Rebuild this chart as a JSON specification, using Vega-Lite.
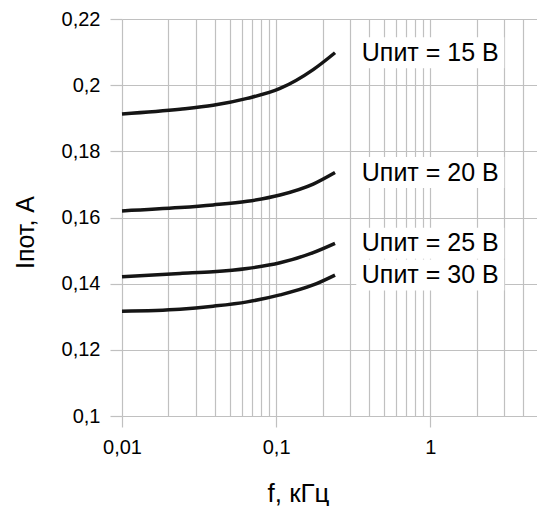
{
  "$schema": "https://vega.github.io/schema/vega-lite/v6.json",
  "width": 416,
  "height": 397,
  "autosize": {"type": "none"},
  "padding": {"left": 122, "top": 19, "right": 0, "bottom": 90},
  "background": "white",
  "config": {
    "view": {"stroke": null},
    "font": "Liberation Sans",
    "axis": {
      "labelFont": "Liberation Sans",
      "titleFont": "Liberation Sans",
      "labelColor": "black",
      "titleColor": "black",
      "titleFontWeight": "normal",
      "gridColor": "#c0c0c0",
      "gridWidth": 1.2,
      "tickColor": "#c0c0c0",
      "tickWidth": 1.2,
      "domain": false
    }
  },
  "datasets": {
    "curves": [
      {"U": "15", "f": 0.01, "I": 0.1913},
      {"U": "15", "f": 0.0238, "I": 0.1927},
      {"U": "15", "f": 0.039, "I": 0.1939},
      {"U": "15", "f": 0.0649, "I": 0.196},
      {"U": "15", "f": 0.106, "I": 0.199},
      {"U": "15", "f": 0.174, "I": 0.2047},
      {"U": "15", "f": 0.241, "I": 0.2098},
      {"U": "20", "f": 0.01, "I": 0.162},
      {"U": "20", "f": 0.0238, "I": 0.163},
      {"U": "20", "f": 0.039, "I": 0.1638},
      {"U": "20", "f": 0.0649, "I": 0.1649},
      {"U": "20", "f": 0.106, "I": 0.1668},
      {"U": "20", "f": 0.174, "I": 0.1701},
      {"U": "20", "f": 0.241, "I": 0.1736},
      {"U": "25", "f": 0.01, "I": 0.1421},
      {"U": "25", "f": 0.0238, "I": 0.1431},
      {"U": "25", "f": 0.039, "I": 0.1436},
      {"U": "25", "f": 0.0649, "I": 0.1446},
      {"U": "25", "f": 0.106, "I": 0.1463},
      {"U": "25", "f": 0.174, "I": 0.1494},
      {"U": "25", "f": 0.241, "I": 0.1522},
      {"U": "30", "f": 0.01, "I": 0.1317},
      {"U": "30", "f": 0.0238, "I": 0.1323},
      {"U": "30", "f": 0.039, "I": 0.1332},
      {"U": "30", "f": 0.0649, "I": 0.1345},
      {"U": "30", "f": 0.106, "I": 0.1366},
      {"U": "30", "f": 0.174, "I": 0.1396},
      {"U": "30", "f": 0.241, "I": 0.1426}
    ],
    "labels": [
      {"text": "Uпит = 15 В", "f": 1, "I": 0.2098},
      {"text": "Uпит = 20 В", "f": 1, "I": 0.1736},
      {"text": "Uпит = 25 В", "f": 1, "I": 0.1522},
      {"text": "Uпит = 30 В", "f": 1, "I": 0.1426}
    ]
  },
  "encoding": {
    "x": {
      "field": "f",
      "type": "quantitative",
      "scale": {"type": "log", "domain": [0.01, 5], "nice": false},
      "axis": {
        "values": [0.01, 0.02, 0.03, 0.04, 0.05, 0.06, 0.07, 0.08, 0.09, 0.1, 0.2, 0.3, 0.4, 0.5, 0.6, 0.7, 0.8, 0.9, 1, 2, 3, 4, 5],
        "labelExpr": "datum.value == 0.01 ? '0,01' : datum.value == 0.1 ? '0,1' : datum.value == 1 ? '1' : ''",
        "labelFontSize": 20,
        "labelPadding": 10,
        "labelOverlap": false,
        "labelFlush": false,
        "labelBound": false,
        "tickSize": 11,
        "tickOpacity": {"condition": {"test": "datum.value == 0.01 || datum.value == 0.1 || datum.value == 1", "value": 1}, "value": 0},
        "grid": true,
        "title": "f, кГц",
        "titleFontSize": 26,
        "titleX": 176,
        "titleY": 85,
        "titleBaseline": "alphabetic"
      }
    },
    "y": {
      "field": "I",
      "type": "quantitative",
      "scale": {"domain": [0.1, 0.22], "nice": false, "zero": false},
      "axis": {
        "values": [0.1, 0.12, 0.14, 0.16, 0.18, 0.2, 0.22],
        "labelExpr": "replace(format(datum.value, '.2~f'), '.', ',')",
        "labelFontSize": 20,
        "labelPadding": 10,
        "labelOverlap": false,
        "labelFlush": false,
        "tickSize": 12,
        "grid": true,
        "title": "Iпот, А",
        "titleFontSize": 25,
        "titleX": -89,
        "titleY": 213,
        "titleBaseline": "alphabetic"
      }
    }
  },
  "layer": [
    {
      "data": {"name": "curves"},
      "mark": {"type": "line", "color": "#151515", "strokeWidth": 3.5, "interpolate": "monotone"},
      "encoding": {"detail": {"field": "U"}}
    },
    {
      "data": {"name": "labels"},
      "mark": {"type": "point", "shape": "M-1,-0.21H1V0.21H-1Z", "size": 21904, "filled": true, "color": "white", "opacity": 1, "strokeWidth": 0}
    },
    {
      "data": {"name": "labels"},
      "mark": {"type": "text", "fontSize": 25, "color": "black", "align": "center", "baseline": "middle", "font": "Liberation Sans"},
      "encoding": {"text": {"field": "text"}}
    }
  ]
}
